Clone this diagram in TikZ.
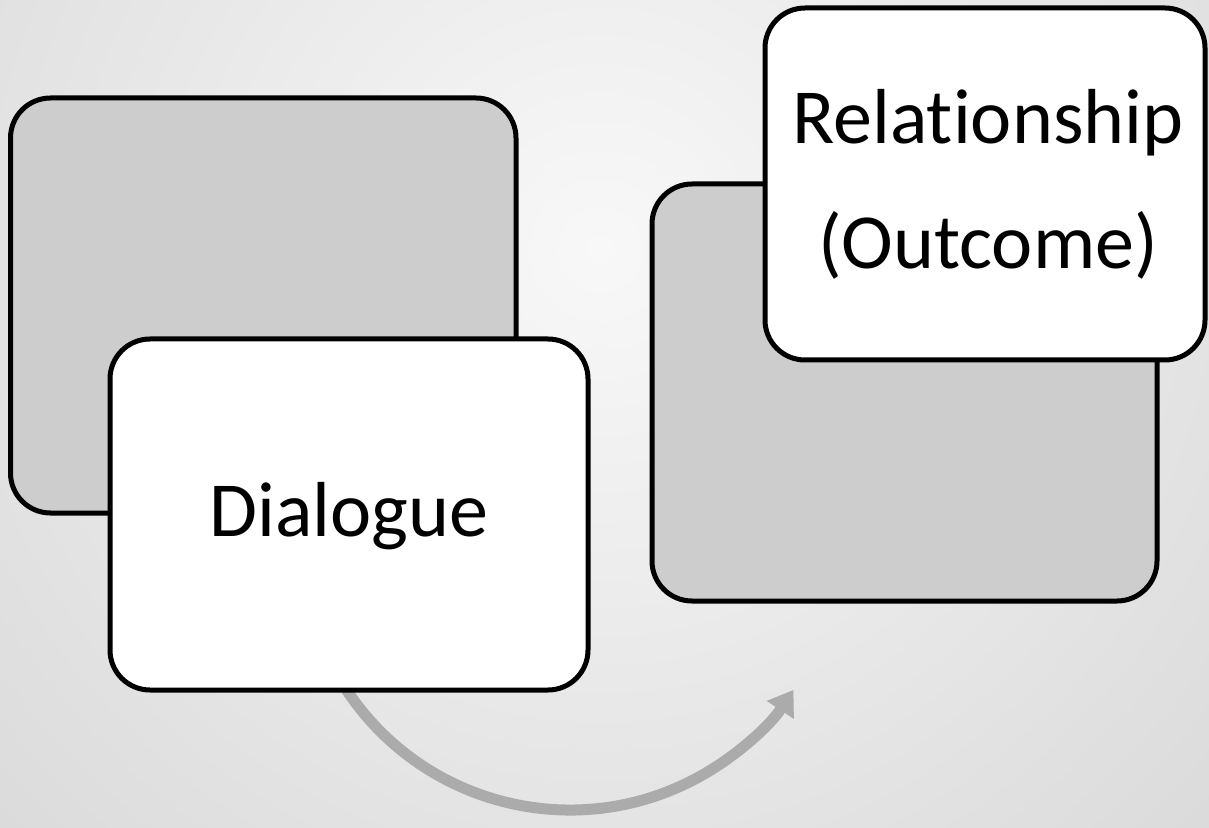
\documentclass[tikz,border=0pt]{standalone}
\usepackage{fontspec}
\setmainfont{Carlito}[Ligatures={NoCommon}]
\usetikzlibrary{arrows.meta}
\definecolor{bginner}{HTML}{F8F8F8}
\definecolor{bgouter}{HTML}{B0B0B0}
\definecolor{boxgray}{HTML}{CDCDCD}
\definecolor{arrowgray}{HTML}{ABABAB}
\tikzset{
  backbox/.style={draw=black, line width=2.5pt, rounded corners=20pt, fill=boxgray, inner sep=0pt},
  frontbox/.style={draw=black, line width=2.5pt, rounded corners=20pt, fill=white, inner sep=0pt},
  boxtext/.style={font=\fontsize{39}{62.5}\selectfont, align=center, inner sep=0pt, text=black},
  flowarrow/.style={draw=arrowgray, line width=5.5pt, -{Triangle[length=12pt,width=15.5pt]}}
}
\begin{document}
\begin{tikzpicture}[x=0.5pt,y=0.5pt]
  \useasboundingbox (0,0) rectangle (1209,-828);
  \begin{scope}
    \clip (0,0) rectangle (1209,-828);
    \shade[inner color=bginner, outer color=bgouter] (600,-250) circle (1030pt);
  \end{scope}
  % back-left box
  \node[backbox, minimum width=252.75pt, minimum height=207.5pt] (lg) at (263.25,-305.5) {};
  % curved arrow (under the Dialogue box)
  \coordinate (arcc) at (570,-542);
  \draw[flowarrow] (arcc) ++(-150:268) coordinate (arcstart) arc[start angle=-150, end angle=-33.5, radius=268] coordinate (arcend);
  % Dialogue box
  \node[frontbox, minimum width=239pt, minimum height=175.5pt] (dlg) at (349,-514.5) {};
  \node[boxtext, anchor=base] (dlgtext) at (349,-536) {Dialogue};
  % back-right box
  \node[backbox, minimum width=252.5pt, minimum height=208.5pt] (rg) at (904.5,-392.5) {};
  % Relationship box
  \node[frontbox, minimum width=220pt, minimum height=176pt] (rel) at (985,-184) {};
  \node[boxtext, anchor=base] (reltext1) at (988,-144) {Relationship};
  \node[boxtext, anchor=base] (reltext2) at (988,-269) {(Outcome)};
\end{tikzpicture}
\end{document}
